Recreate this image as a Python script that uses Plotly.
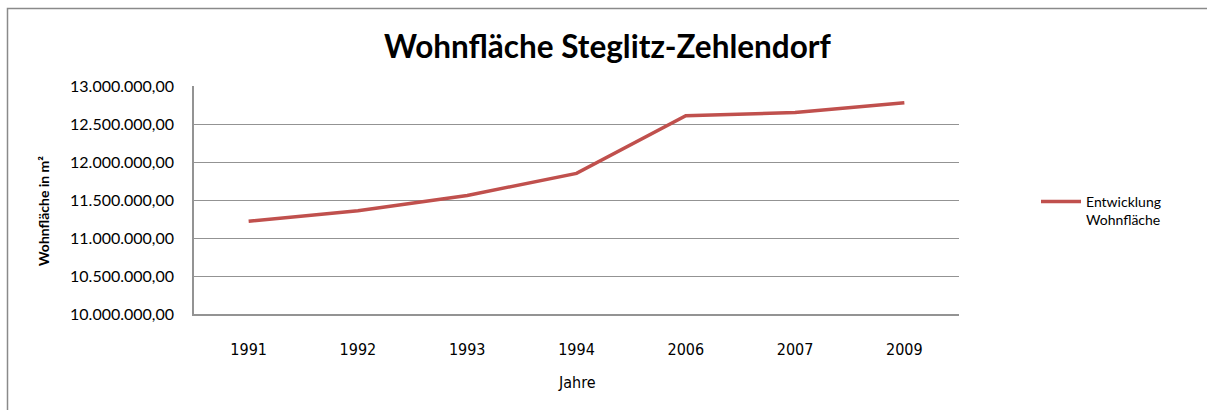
import plotly.graph_objects as go

# Living space in Steglitz-Zehlendorf (m²) by year
years = ["1991", "1992", "1993", "1994", "2006", "2007", "2009"]
wohnflaeche = [11220000, 11360000, 11560000, 11850000, 12610000, 12650000, 12780000]

W, H = 1207, 410
L, R, T, B = 194, 248, 86, 96
pw, ph = W - L - R, H - T - B


def px(x):
    return (x - L) / pw


def py(y):
    return (H - B - y) / ph


FONT = "Lato, Calibri, sans-serif"
NARROW = "'Liberation Sans Narrow', 'DejaVu Sans Condensed', sans-serif"
GRID = "#939393"

fig = go.Figure(
    go.Scatter(
        x=years,
        y=wohnflaeche,
        mode="lines",
        name="Entwicklung<br>Wohnfläche",
        line=dict(color="#C0504D", width=3.5),
    )
)

fig.update_layout(
    width=W,
    height=H,
    margin=dict(l=L, r=R, t=T, b=B),
    paper_bgcolor="white",
    plot_bgcolor="white",
    separators=",.",
    font=dict(family=FONT, color="#000000", size=14),
    showlegend=True,
    legend=dict(
        x=px(1036),
        y=py(211),
        xanchor="left",
        yanchor="middle",
        valign="top",
        font=dict(family=FONT, size=14, color="#000000"),
        bgcolor="rgba(0,0,0,0)",
        itemwidth=40,
    ),
    annotations=[
        dict(
            text="<b>Wohnfläche Steglitz-Zehlendorf</b>",
            x=px(608), y=py(46), xref="paper", yref="paper",
            xanchor="center", yanchor="middle", showarrow=False,
            font=dict(family=FONT, size=31.5, color="#000000"),
        ),
        dict(
            text="<b>Wohnfläche in m²</b>",
            x=px(43), y=py(211), xref="paper", yref="paper",
            xanchor="center", yanchor="middle", showarrow=False,
            textangle=-90,
            font=dict(family=FONT, size=14, color="#000000"),
        ),
        dict(
            text="Jahre",
            x=px(577), y=py(382), xref="paper", yref="paper",
            xanchor="center", yanchor="middle", showarrow=False,
            font=dict(family=NARROW, size=16, color="#000000"),
        ),
    ],
    shapes=[
        dict(
            type="rect", xref="paper", yref="paper",
            x0=px(7.5), x1=px(1215), y0=py(420), y1=py(8.5),
            line=dict(color="#8a8a8a", width=1.5),
            fillcolor="rgba(0,0,0,0)", layer="below",
        )
    ],
)

fig.update_xaxes(
    type="category",
    range=[-0.5, len(years) - 0.5],
    showgrid=False,
    showline=True,
    linecolor=GRID,
    linewidth=1.5,
    ticks="",
    ticklabelstandoff=20,
    tickfont=dict(family=NARROW, size=16),
    zeroline=False,
)

fig.update_yaxes(
    range=[10000000, 13000000],
    dtick=500000,
    tickformat=",.2f",
    showgrid=True,
    gridcolor=GRID,
    gridwidth=1.2,
    showline=True,
    linecolor=GRID,
    linewidth=1.5,
    ticks="",
    ticklabelstandoff=15,
    tickfont=dict(family=FONT, size=16),
    zeroline=False,
)

fig.write_html("out.html")
